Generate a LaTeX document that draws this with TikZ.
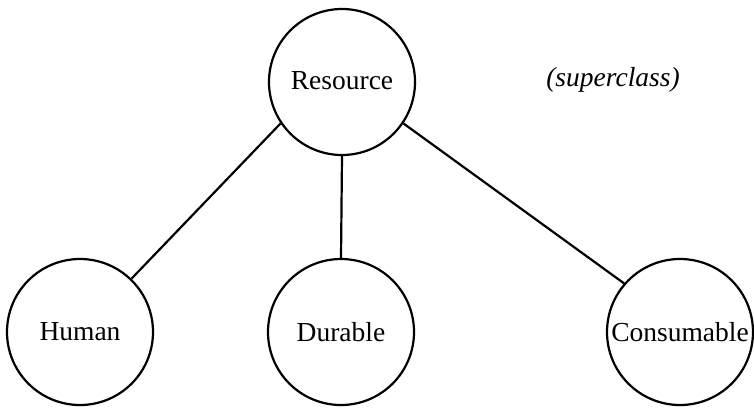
\documentclass[tikz,border=0pt]{standalone}
\usepackage{fontspec}
\setmainfont{Liberation Serif}
\begin{document}
\begin{tikzpicture}[x=1pt,y=-1pt,
  cls/.style={circle,draw,line width=2.2pt,minimum size=146pt,inner sep=0pt,font=\fontsize{27.5}{30}\selectfont},
  link/.style={line width=2.2pt}]
\useasboundingbox (0,0) rectangle (754,408);
\node[cls] (res) at (342,82) {\raisebox{4pt}{Resource}};
\node[cls] (hum) at (80,332) {Human};
\node[cls] (dur) at (341,332) {Durable};
\node[cls] (con) at (680,332) {Consumable};
\node[font=\fontsize{27.5}{30}\selectfont\itshape] (sup) at (613,80) {(superclass)};
\draw[link] (res.214) -- (hum.46);
\draw[link] (res.south) -- (dur.north);
\draw[link] (res.326) -- (con.139);
\end{tikzpicture}
\end{document}
